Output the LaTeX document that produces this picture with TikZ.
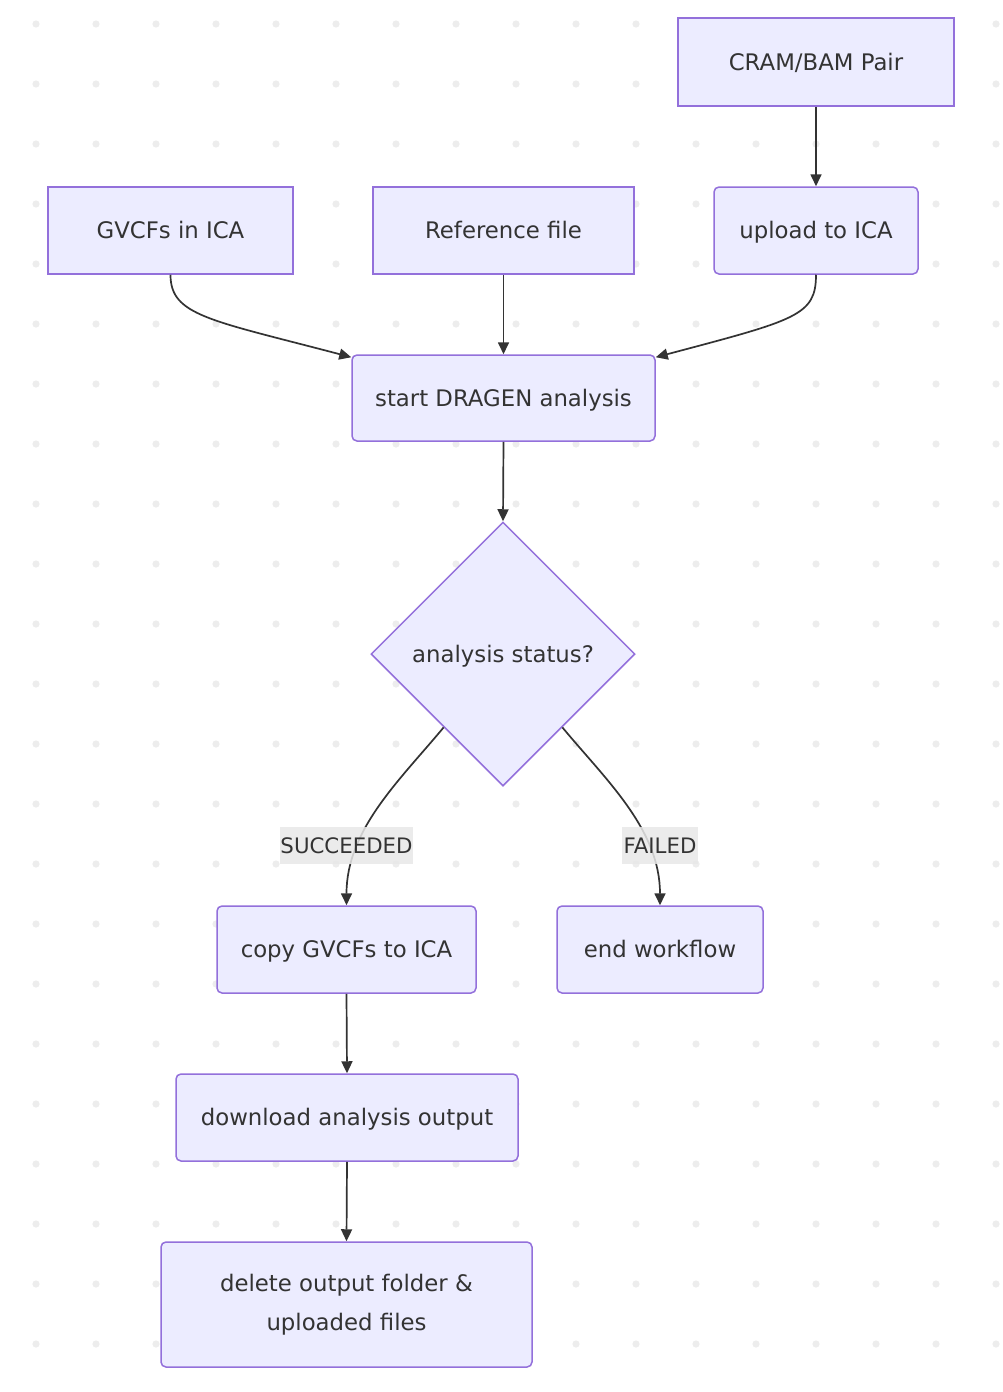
\documentclass[tikz,border=0pt]{standalone}
\usepackage{fontspec}
\setmainfont{DejaVu Sans}
\usetikzlibrary{shapes.geometric,arrows.meta}
\definecolor{boxfill}{HTML}{ECECFF}
\definecolor{boxline}{HTML}{9370DB}
\definecolor{ink}{HTML}{333333}
\definecolor{lblbg}{HTML}{E8E8E8}
\definecolor{dotc}{HTML}{EDEDED}
\tikzset{
  base/.style={draw=boxline, fill=boxfill, line width=1.5pt, text=ink, inner sep=0pt,
    font=\fontsize{22.8}{39}\selectfont},
  oneline/.style={text height=20pt, text depth=3.4pt},
  sqbox/.style={base, oneline, rectangle},
  rbox/.style={base, oneline, rectangle, rounded corners=5pt},
  rtbox/.style={base, rectangle, rounded corners=5pt, align=center},
  decis/.style={base, oneline, diamond, aspect=1},
  conn/.style={draw=ink, line width=1.7pt, -{Triangle[length=12pt,width=11pt]}},
  lbl/.style={fill=lblbg, fill opacity=0.85, text opacity=1, text=ink, inner sep=0pt,
    font=\fontsize{21.3}{26}\selectfont, text height=18.5pt, text depth=3pt, minimum height=37pt}
}
\begin{document}
\begin{tikzpicture}[x=1pt,y=-1pt]
\useasboundingbox (0,0) rectangle (1002,1392);
\fill[white] (0,0) rectangle (1002,1392);
\foreach \gx in {36,96,...,996} {
  \foreach \gy in {24,84,...,1384} {
    \fill[dotc] (\gx,\gy) circle (3.6pt);
  }
}
\node[sqbox, minimum width=245pt, minimum height=87pt] (gvcf) at (170.5,230.5) {GVCFs in ICA};
\node[sqbox, minimum width=261pt, minimum height=87pt] (ref) at (503.5,230.5) {Reference file};
\node[sqbox, minimum width=276pt, minimum height=88pt] (cram) at (816,62) {CRAM/BAM Pair};
\node[rbox, minimum width=204pt, minimum height=87pt] (upload) at (816,230.5) {upload to ICA};
\node[rbox, minimum width=303pt, minimum height=86pt] (start) at (503.5,398) {start DRAGEN analysis};
\node[decis, minimum width=264pt, minimum height=264pt] (dia) at (503,654) {analysis status?};
\node[rbox, minimum width=259pt, minimum height=87pt] (copy) at (346.5,949.5) {copy GVCFs to ICA};
\node[rbox, minimum width=206pt, minimum height=87pt] (endw) at (660,949.5) {end workflow};
\node[rbox, minimum width=342pt, minimum height=87pt] (dl) at (347,1117.5) {download analysis output};
\node[rtbox, minimum width=371pt, minimum height=125pt] (del) at (346.5,1304.5) {delete output folder \&\\uploaded files};

\draw[conn] (cram.south) -- (upload.north);
\draw[conn] (ref.south) -- (start.north);
\draw[conn] (gvcf.south) .. controls ([yshift=-41pt]gvcf.south) and (210,320) .. ([yshift=-3pt]start.north west);
\draw[conn] (upload.south) .. controls ([yshift=-41pt]upload.south) and (796,320) .. ([yshift=-3pt]start.north east);
\draw[conn] (start.south) -- (dia.north);
\draw[conn] ([shift={(7pt,-7pt)}]dia.south west) .. controls (400,780) and ([yshift=76pt]copy.north) .. (copy.north);
\draw[conn] ([shift={(-7pt,-7pt)}]dia.south east) .. controls (606,780) and ([yshift=76pt]endw.north) .. (endw.north);
\node[lbl, minimum width=133pt] (lsucc) at (346.5,845.5) {SUCCEEDED};
\node[lbl, minimum width=76pt] (lfail) at (660,845.5) {FAILED};
\draw[conn] (copy.south) -- (dl.north);
\draw[conn] (dl.south) -- (del.north);
\end{tikzpicture}
\end{document}
